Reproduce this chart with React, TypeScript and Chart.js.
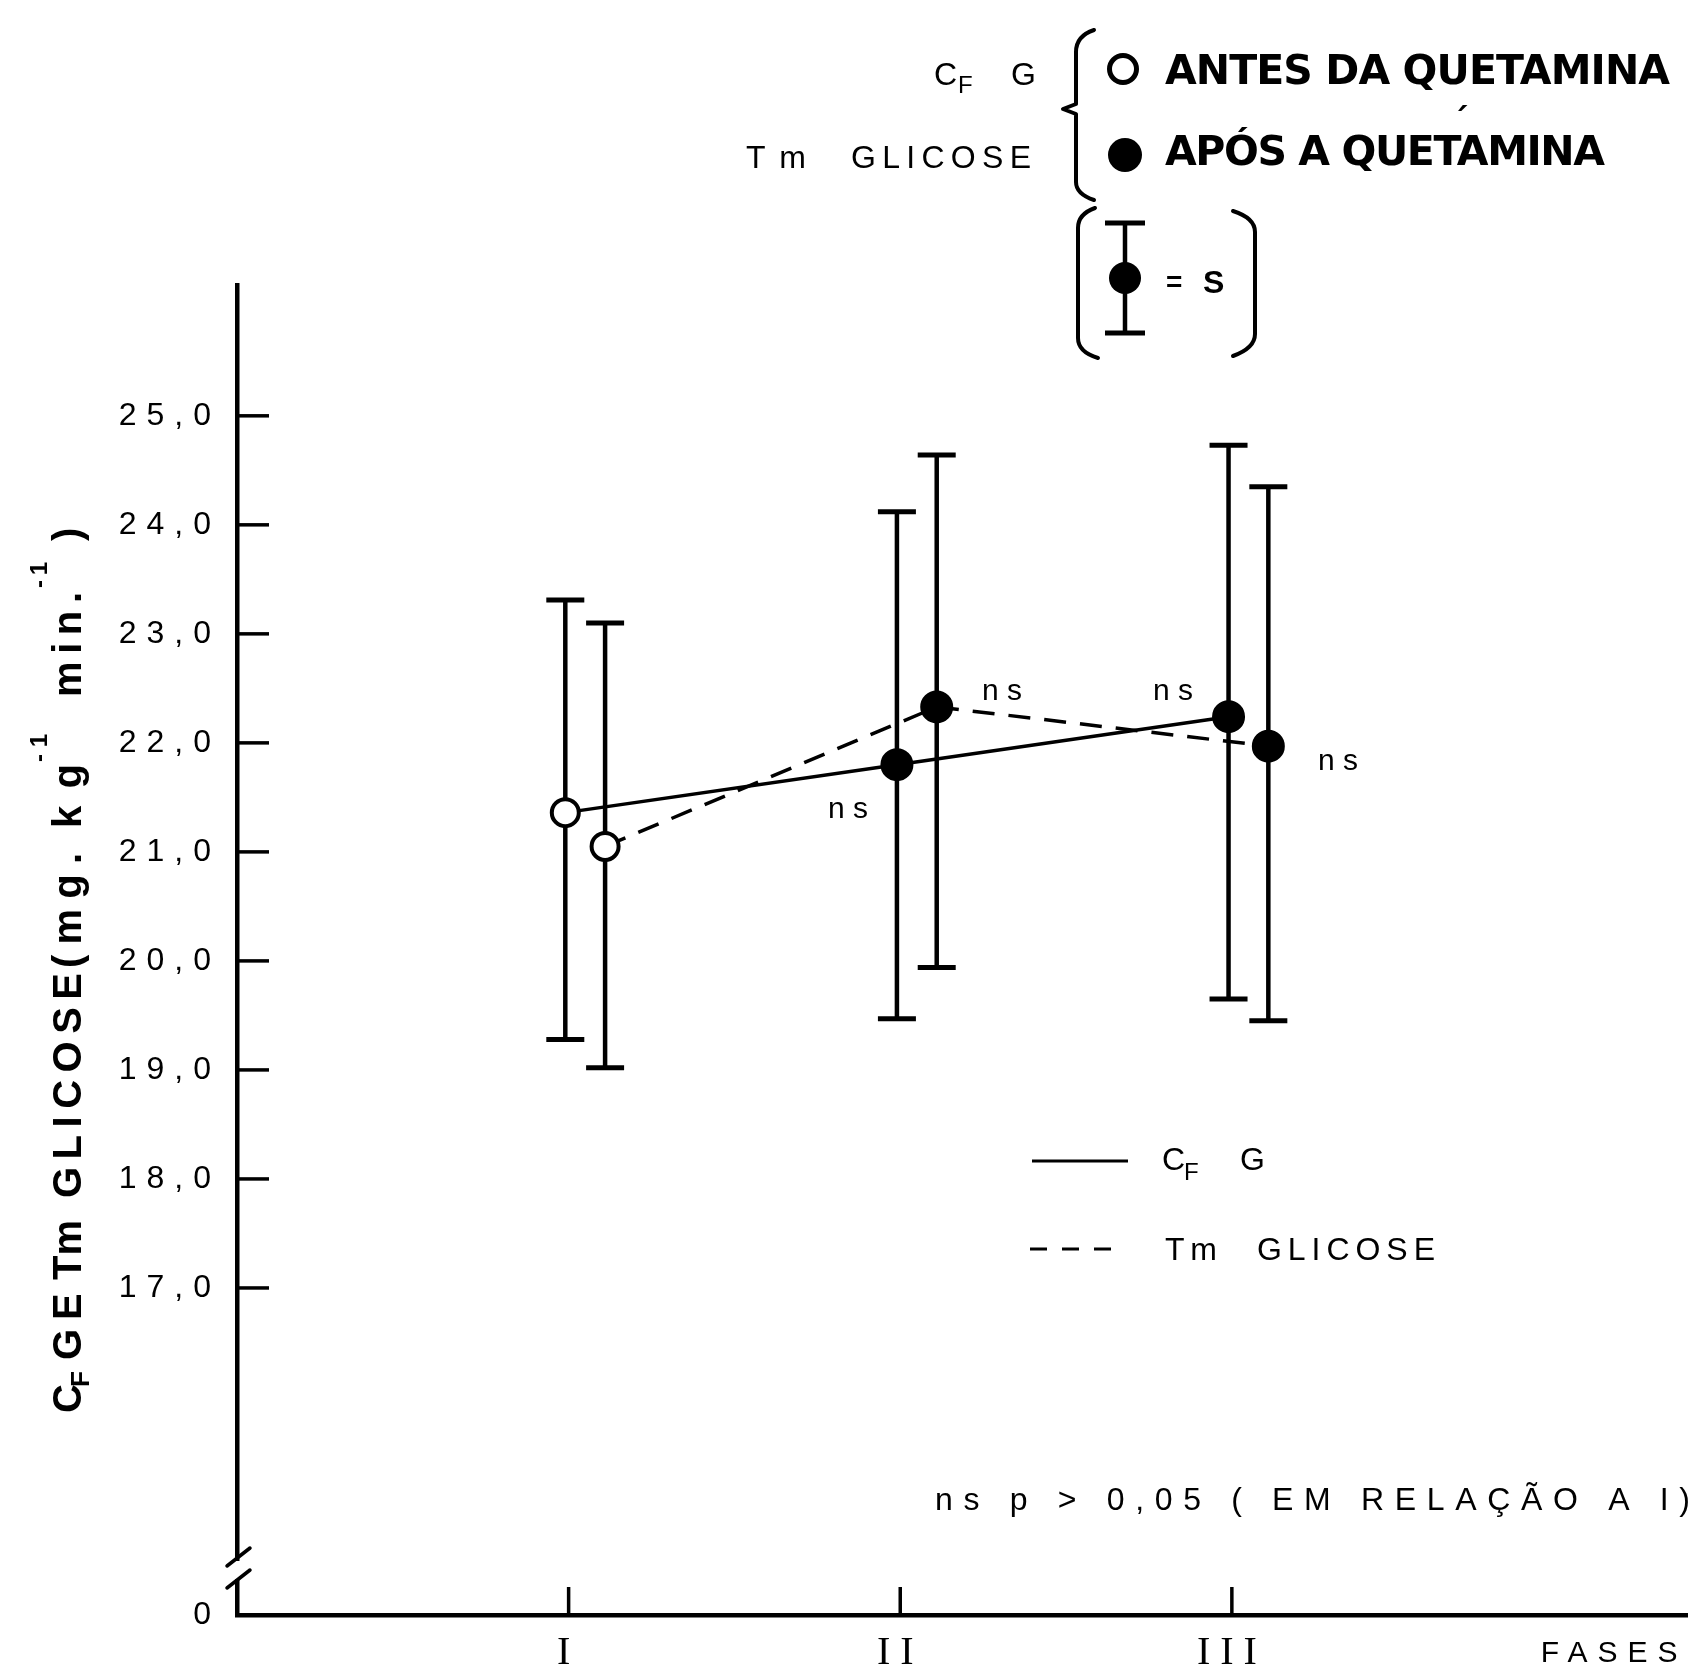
import { useEffect, useRef } from 'react';
import { Chart, registerables } from 'chart.js';

Chart.register(...registerables);

// ---------------- data ----------------
const phases = [1, 2, 3];
const phaseLabels = ['I', 'II', 'III'];
const xAxisTitle = 'FASES';
const yTicks = [17, 18, 19, 20, 21, 22, 23, 24, 25];
const yBreakLabel = '0';

// Cf G (clearance of glucose) – mean and ± s limits
const cfgMean = [21.36, 21.8, 22.24];
const cfgUpper = [23.31, 24.12, 24.73];
const cfgLower = [19.28, 19.47, 19.65];

// Tm glicose – mean and ± s limits
const tmMean = [21.05, 22.33, 21.97];
const tmUpper = [23.1, 24.64, 24.35];
const tmLower = [19.02, 19.94, 19.45];

// phase I = antes da quetamina (open), II/III = após (filled)
const afterKetamine = [false, true, true];

const nsNote = 'ns p > 0,05 ( EM RELAÇÃO A I)';

// ---------------- layout ----------------
const W = 1705;
const H = 1666;
const Y_MIN = 14;
const Y_MAX = 26.2;
const X_MIN = 0;
const X_MAX = 4.374;
const CFG_DODGE = -0.01;
const TM_DODGE = 0.11;

const SANS = '"Liberation Sans", Arial, sans-serif';
const BOLD = '"DejaVu Sans", sans-serif';
const BOLD2 = '"Liberation Sans", Arial, sans-serif';
const SERIF = '"Liberation Serif", "DejaVu Serif", serif';

function setLS(ctx: any, v: number) {
  ctx.letterSpacing = v + 'px';
}

function spaced(ctx: CanvasRenderingContext2D, text: string, x: number, y: number, width: number, font: string) {
  ctx.save();
  ctx.font = font;
  setLS(ctx, 0);
  const n = Array.from(text).length;
  const w = ctx.measureText(text).width;
  const ls = n > 1 && width > 0 ? (width - w) / (n - 1) : 0;
  setLS(ctx, ls);
  ctx.textAlign = 'left';
  ctx.textBaseline = 'alphabetic';
  ctx.fillStyle = '#000';
  ctx.fillText(text, x, y);
  ctx.restore();
}

function rotText(ctx: CanvasRenderingContext2D, text: string, baseX: number, yBottom: number, yTop: number, font: string) {
  ctx.save();
  ctx.translate(baseX, yBottom);
  ctx.rotate(-Math.PI / 2);
  spaced(ctx, text, 0, 0, yBottom - yTop, font);
  ctx.restore();
}

function seg(ctx: CanvasRenderingContext2D, x1: number, y1: number, x2: number, y2: number, lw: number) {
  ctx.lineWidth = lw;
  ctx.beginPath();
  ctx.moveTo(x1, y1);
  ctx.lineTo(x2, y2);
  ctx.stroke();
}

const decorPlugin = {
  id: 'decor',
  beforeDraw(chart: any) {
    setLS(chart.ctx, 10);
  },
  beforeDatasetsDraw(chart: any) {
    const ctx: CanvasRenderingContext2D = chart.ctx;
    setLS(ctx, 0);
    const xs = chart.scales.x;
    const ys = chart.scales.y;
    const area = chart.chartArea;
    ctx.save();
    ctx.strokeStyle = '#000';
    ctx.lineCap = 'butt';
    // inward tick marks
    for (const v of yTicks) {
      const y = ys.getPixelForValue(v);
      seg(ctx, area.left, y, area.left + 32, y, 3.5);
    }
    for (const p of phases) {
      const x = xs.getPixelForValue(p);
      seg(ctx, x, area.bottom, x, area.bottom - 28, 3.5);
    }
    // error bars (± s)
    const bars: [number[], number[], number][] = [
      [cfgLower, cfgUpper, CFG_DODGE],
      [tmLower, tmUpper, TM_DODGE],
    ];
    for (const [lo, hi, dodge] of bars) {
      phases.forEach((p, i) => {
        const x = xs.getPixelForValue(p + dodge);
        const yl = ys.getPixelForValue(lo[i]);
        const yh = ys.getPixelForValue(hi[i]);
        seg(ctx, x, yh, x, yl, 4.5);
        seg(ctx, x - 19, yh, x + 19, yh, 5);
        seg(ctx, x - 19, yl, x + 19, yl, 5);
      });
    }
    ctx.restore();
  },
  afterDraw(chart: any) {
    const ctx: CanvasRenderingContext2D = chart.ctx;
    setLS(ctx, 0);
    ctx.save();
    ctx.strokeStyle = '#000';
    ctx.fillStyle = '#000';
    ctx.lineCap = 'round';
    ctx.lineJoin = 'round';

    // ---- axis break on y axis ----
    ctx.fillStyle = '#fff';
    ctx.fillRect(230, 1561, 16, 18);
    ctx.fillStyle = '#000';
    seg(ctx, 227, 1566, 250, 1548, 3.5);
    seg(ctx, 227, 1588, 250, 1570, 3.5);

    // ---- y axis title (rotated) ----
    const tb = `bold 40px ${BOLD2}`;
    const ts = `bold 24px ${BOLD2}`;
    rotText(ctx, 'C', 81, 1413, 1413, tb);
    rotText(ctx, 'F', 89, 1387, 1387, `bold 26px ${BOLD2}`);
    rotText(ctx, 'G', 81, 1360, 1360, tb);
    rotText(ctx, 'E', 81, 1320, 1320, tb);
    rotText(ctx, 'Tm', 81, 1280, 1280, tb);
    rotText(ctx, 'GLICOSE', 81, 1198, 973, tb);
    rotText(ctx, '(mg.', 81, 968, 853, tb);
    rotText(ctx, 'kg', 81, 828, 764, tb);
    rotText(ctx, '-1', 47, 762, 734, ts);
    rotText(ctx, 'min.', 81, 697, 592, tb);
    rotText(ctx, '-1', 47, 588, 562, ts);
    rotText(ctx, ')', 81, 541, 541, tb);

    // ---- top legend ----
    const sm = `32px ${SANS}`;
    const sub = `24px ${SANS}`;
    spaced(ctx, 'C', 934, 85, 0, sm);
    spaced(ctx, 'F', 958, 93, 0, sub);
    spaced(ctx, 'G', 1011, 85, 0, sm);
    spaced(ctx, 'Tm', 746, 168, 60, sm);
    spaced(ctx, 'GLICOSE', 851, 168, 180, sm);

    // curly brace
    ctx.lineWidth = 4;
    ctx.beginPath();
    ctx.moveTo(1094, 30);
    ctx.quadraticCurveTo(1076, 36, 1076, 52);
    ctx.lineTo(1076, 104);
    ctx.lineTo(1063, 109);
    ctx.lineTo(1076, 114);
    ctx.lineTo(1076, 182);
    ctx.quadraticCurveTo(1076, 194, 1094, 200);
    ctx.stroke();

    // open / filled symbols
    ctx.lineWidth = 5;
    ctx.beginPath();
    ctx.arc(1123, 69, 13.5, 0, Math.PI * 2);
    ctx.stroke();
    ctx.beginPath();
    ctx.arc(1125, 155, 17, 0, Math.PI * 2);
    ctx.fill();

    const lb = `bold 41px ${BOLD}`;
    spaced(ctx, 'ANTES DA QUETAMINA', 1165, 84, 505, lb);
    spaced(ctx, 'APÓS A QUETAMINA', 1165, 165, 440, lb);
    spaced(ctx, '\u00B4', 1452, 132, 0, `bold 34px ${BOLD}`);

    // ( I = S ) key
    ctx.lineWidth = 4;
    ctx.beginPath();
    ctx.moveTo(1095, 208);
    ctx.quadraticCurveTo(1078, 214, 1078, 228);
    ctx.lineTo(1078, 338);
    ctx.quadraticCurveTo(1078, 352, 1098, 358);
    ctx.stroke();
    ctx.beginPath();
    ctx.moveTo(1233, 211);
    ctx.quadraticCurveTo(1255, 218, 1255, 232);
    ctx.lineTo(1255, 334);
    ctx.quadraticCurveTo(1255, 348, 1233, 356);
    ctx.stroke();
    ctx.lineCap = 'butt';
    seg(ctx, 1125, 223, 1125, 333, 4.5);
    seg(ctx, 1105, 223, 1145, 223, 5);
    seg(ctx, 1105, 333, 1145, 333, 5);
    ctx.beginPath();
    ctx.arc(1125, 278, 16, 0, Math.PI * 2);
    ctx.fill();
    spaced(ctx, '=', 1166, 291, 0, `bold 28px ${SANS}`);
    spaced(ctx, 'S', 1203, 293, 0, `bold 32px ${SANS}`);

    // ---- ns labels ----
    const nsf = `30px ${SANS}`;
    spaced(ctx, 'ns', 982, 700, 40, nsf);
    spaced(ctx, 'ns', 1153, 700, 40, nsf);
    spaced(ctx, 'ns', 828, 818, 40, nsf);
    spaced(ctx, 'ns', 1318, 770, 40, nsf);

    // ---- lower legend ----
    seg(ctx, 1032, 1161, 1128, 1161, 3);
    spaced(ctx, 'C', 1162, 1170, 0, sm);
    spaced(ctx, 'F', 1184, 1180, 0, sub);
    spaced(ctx, 'G', 1240, 1170, 0, sm);
    ctx.save();
    ctx.setLineDash([17, 15]);
    seg(ctx, 1030, 1249, 1112, 1249, 3);
    ctx.restore();
    spaced(ctx, 'Tm', 1165, 1260, 52, sm);
    spaced(ctx, 'GLICOSE', 1257, 1260, 178, sm);

    // ---- significance note ----
    spaced(ctx, nsNote, 935, 1510, 755, `32px ${SANS}`);

    ctx.restore();
  },
};

export default function App() {
  const ref = useRef<HTMLCanvasElement>(null);

  useEffect(() => {
    const canvas = ref.current;
    if (!canvas) return;

    const cfgPts = phases.map((p, i) => ({ x: p + CFG_DODGE, y: cfgMean[i] }));
    const tmPts = phases.map((p, i) => ({ x: p + TM_DODGE, y: tmMean[i] }));
    const fills = afterKetamine.map((a) => (a ? '#000' : '#fff'));
    const radii = afterKetamine.map((a) => (a ? 15.5 : 13.5));
    const bws = afterKetamine.map((a) => (a ? 2 : 4));

    const chart = new Chart(canvas, {
      type: 'scatter',
      data: {
        datasets: [
          {
            label: 'Cf G',
            data: cfgPts,
            showLine: true,
            borderColor: '#000',
            borderWidth: 3.5,
            pointRadius: radii,
            pointBackgroundColor: fills,
            pointBorderColor: '#000',
            pointBorderWidth: bws,
            clip: false,
          },
          {
            label: 'Tm GLICOSE',
            data: tmPts,
            showLine: true,
            borderColor: '#000',
            borderWidth: 3.5,
            borderDash: [22, 14],
            pointRadius: radii,
            pointBackgroundColor: fills,
            pointBorderColor: '#000',
            pointBorderWidth: bws,
            clip: false,
          },
        ],
      },
      options: {
        responsive: false,
        animation: false,
        devicePixelRatio: 1,
        layout: { padding: { left: 0, top: 285, right: 7, bottom: 0 } },
        plugins: {
          legend: { display: false },
          tooltip: { enabled: false },
          title: { display: false },
        },
        scales: {
          x: {
            type: 'linear',
            position: 'bottom',
            min: X_MIN,
            max: X_MAX,
            afterBuildTicks: (s: any) => {
              s.ticks = phases.map((v) => ({ value: v }));
            },
            afterFit: (s: any) => {
              s.height = 51;
            },
            grid: { display: false, drawTicks: false },
            border: { display: true, color: '#000', width: 4.5 },
            ticks: {
              color: '#000',
              padding: 14,
              autoSkip: false,
              maxRotation: 0,
              font: { family: SERIF, size: 40 },
              callback: (v: any) => {
                const i = phases.indexOf(Number(v));
                return i >= 0 ? phaseLabels[i] : '';
              },
            },
            title: {
              display: true,
              text: xAxisTitle,
              align: 'end',
              color: '#000',
              font: { family: SANS, size: 30, lineHeight: 0.8 },
              padding: 0,
            },
          },
          y: {
            type: 'linear',
            min: Y_MIN,
            max: Y_MAX,
            afterBuildTicks: (s: any) => {
              s.ticks = [{ value: Y_MIN }, ...yTicks.map((v) => ({ value: v }))];
            },
            afterFit: (s: any) => {
              s.width = 237;
            },
            grid: { display: false, drawTicks: false },
            border: { display: true, color: '#000', width: 4.5 },
            ticks: {
              color: '#000',
              padding: 16,
              autoSkip: false,
              font: { family: SANS, size: 32 },
              callback: (v: any) =>
                Number(v) === Y_MIN ? yBreakLabel : Number(v).toFixed(1).replace('.', ','),
            },
          },
        },
      } as any,
      plugins: [decorPlugin],
    });

    return () => chart.destroy();
  }, []);

  return (
    <div style={{ position: 'absolute', left: 0, top: 0, width: W, height: H, background: '#fff' }}>
      <canvas ref={ref} width={W} height={H} style={{ display: 'block', width: W, height: H }} />
    </div>
  );
}
